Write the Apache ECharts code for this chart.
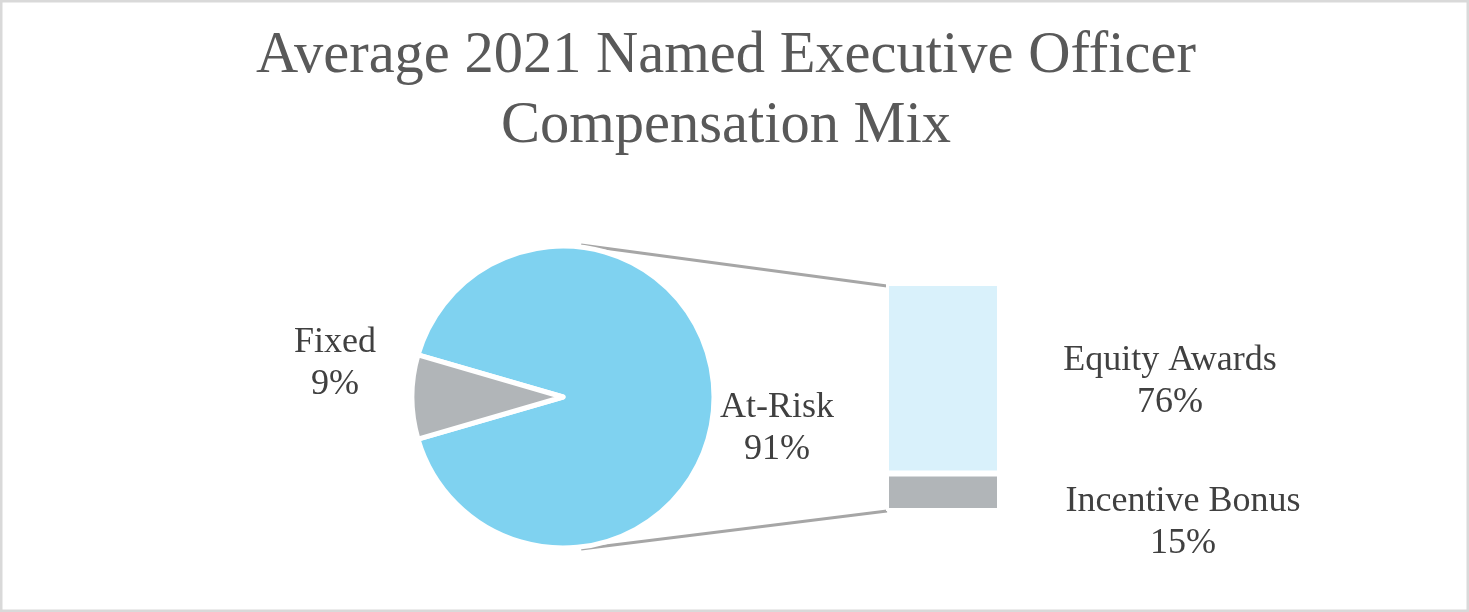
<!DOCTYPE html>
<html>
<head>
<meta charset="utf-8">
<script src="https://cdn.jsdelivr.net/npm/echarts@6/dist/echarts.min.js"></script>
<style>
  html, body { margin: 0; padding: 0; background: #fff; }
  #chart { width: 1469px; height: 612px; }
</style>
</head>
<body>
<div id="chart"></div>
<script>
// ---- data ----
var titleLines = ['Average 2021 Named Executive Officer', 'Compensation Mix'];
var pieCategories = ['At-Risk', 'Fixed'];
var pieValues = [91, 9];
var barCategories = ['Equity Awards', 'Incentive Bonus'];
var barValues = [76, 15];

// ---- layout / style ----
var FONT = '"Liberation Serif", "Times New Roman", serif';
var TEXT = '#404040';
var PIE_CX = 563, PIE_CY = 397, PIE_R = 151;
var GRID = { left: 886, top: 283, width: 114, height: 228 };
var BLUE = '#7FD2F0', GRAY = '#B1B5B8', LIGHT = '#D9F1FB';
var pieColors = [BLUE, GRAY];
var barColors = [LIGHT, GRAY];
// label offsets (relative to pie centre / bar rect centre)
var pieLabelOffsets = [[214, 32], [-228, -33]];
var barLabelOffsets = [[227, 3], [240, 30]];

var total = barValues.reduce(function (a, b) { return a + b; }, 0);
var fixedShare = pieValues[1] / (pieValues[0] + pieValues[1]) * 360;
var startAngle = 180 - fixedShare / 2; // centres the Fixed slice on the left

var chart = echarts.init(document.getElementById('chart'), null, { renderer: 'canvas' });

var barSeries = barCategories.map(function (name, i) {
  return {
    type: 'bar',
    name: name,
    stack: 'mix',
    data: [barValues[i]],
    barWidth: '100%',
    itemStyle: { color: barColors[i], borderColor: '#ffffff', borderWidth: 3 },
    silent: true,
    z: 2,
    label: {
      show: true,
      position: 'inside',
      offset: barLabelOffsets[i],
      align: 'center',
      verticalAlign: 'middle',
      formatter: '{a}\n{c}%',
      color: TEXT,
      fontFamily: FONT,
      fontSize: 36,
      lineHeight: 42,
      textBorderWidth: 0
    }
  };
});
// stacking: Equity on top => put Incentive first
barSeries.reverse();

var option = {
  backgroundColor: '#ffffff',
  animation: false,
  title: {
    text: titleLines.join('\n'),
    left: 721,
    top: 17,
    textAlign: 'center',
    textStyle: {
      fontFamily: FONT,
      fontSize: 58.5,
      lineHeight: 70,
      fontWeight: 'normal',
      color: '#595959'
    }
  },
  grid: { left: GRID.left, top: GRID.top, width: GRID.width, height: GRID.height, containLabel: false },
  xAxis: { type: 'category', data: ['At-Risk'], show: false },
  yAxis: { type: 'value', min: 0, max: total, show: false },
  series: [{
    type: 'pie',
    center: [PIE_CX, PIE_CY],
    radius: PIE_R,
    startAngle: startAngle,
    clockwise: true,
    silent: true,
    data: pieCategories.map(function (n, i) {
      return { name: n, value: pieValues[i], itemStyle: { color: pieColors[i] } };
    }),
    itemStyle: { borderColor: '#ffffff', borderWidth: 5 },
    label: {
      show: true,
      position: 'outside',
      formatter: '{b}\n{d}%',
      color: TEXT,
      fontFamily: FONT,
      fontSize: 36,
      lineHeight: 42
    },
    labelLine: { show: false },
    labelLayout: function (p) {
      var o = pieLabelOffsets[p.dataIndex];
      return { x: PIE_CX + o[0], y: PIE_CY + o[1], align: 'center', verticalAlign: 'middle' };
    }
  }].concat(barSeries)
};
chart.setOption(option);

// connector lines from pie to bar, derived from layout + axis scale
var yTop = chart.convertToPixel({ gridIndex: 0 }, [0, total])[1];
var yBot = chart.convertToPixel({ gridIndex: 0 }, [0, 0])[1];
var ang = 83.2 * Math.PI / 180;
var rr = PIE_R + 2;
var sx = PIE_CX + rr * Math.cos(ang);
chart.setOption({
  graphic: [
    { type: 'line', shape: { x1: sx, y1: PIE_CY - rr * Math.sin(ang), x2: GRID.left + 1, y2: yTop + 3 },
      style: { stroke: '#A6A6A6', lineWidth: 3 }, z: 1 },
    { type: 'line', shape: { x1: sx, y1: PIE_CY + rr * Math.sin(ang), x2: GRID.left + 1, y2: yBot },
      style: { stroke: '#A6A6A6', lineWidth: 3 }, z: 1 },
    { type: 'rect', shape: { x: 1.25, y: 1.25, width: 1466.5, height: 609.5 },
      style: { fill: 'none', stroke: '#D9D9D9', lineWidth: 2.5 }, z: 10 }
  ]
});
</script>
</body>
</html>
